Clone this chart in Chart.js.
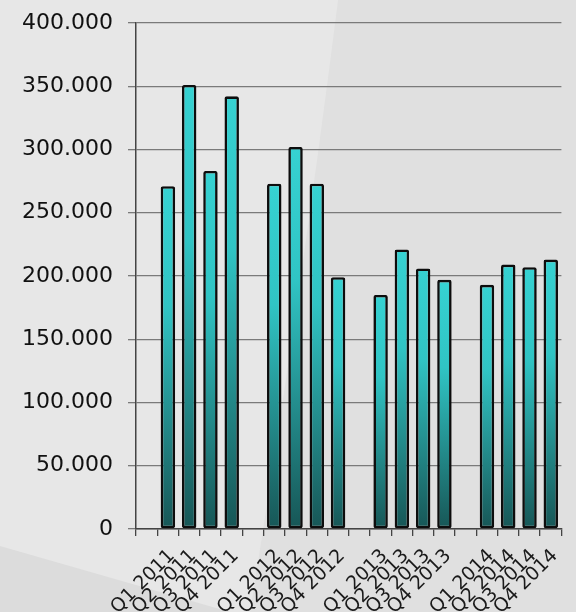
<!DOCTYPE html>
<html>
<head>
<meta charset="utf-8">
<script src="https://cdn.jsdelivr.net/npm/chart.js@4/dist/chart.umd.min.js"></script>
<style>
  html, body { margin: 0; padding: 0; background: #e1e1e1; }
  #wrap { width: 576px; height: 612px; }
</style>
</head>
<body>
<div id="wrap"><canvas id="quarterChart" width="576" height="612"></canvas></div>
<script>
// quarters, with empty slots between the years
const labels = [
    '', 'Q1 2011', 'Q2 2011', 'Q3 2011', 'Q4 2011',
    '', 'Q1 2012', 'Q2 2012', 'Q3 2012', 'Q4 2012',
    '', 'Q1 2013', 'Q2 2013', 'Q3 2013', 'Q4 2013',
    '', 'Q1 2014', 'Q2 2014', 'Q3 2014', 'Q4 2014'
];
const values = [
    null, 271000, 351000, 283000, 342000,
    null, 273000, 302000, 273000, 199000,
    null, 185000, 221000, 206000, 197000,
    null, 193000, 209000, 207000, 213000
];
const yTicks = [0, 50000, 100000, 150000, 200000, 250000, 300000, 350000, 400000];

function fmt(v) {
    return String(v).replace(/\B(?=(\d{3})+(?!\d))/g, '.');
}

// grey backdrop with the faint light/dark wedges
const backdrop = {
    id: 'backdrop',
    beforeDraw(chart) {
        const c = chart.ctx;
        const w = chart.width, h = chart.height;
        c.save();
        c.fillStyle = '#e0e0e0';
        c.fillRect(0, 0, w, h);
        c.fillStyle = '#e7e7e7';
        c.beginPath();
        c.moveTo(0, 0);
        c.lineTo(338, 0);
        c.quadraticCurveTo(300, 300, 250, h);
        c.lineTo(0, h);
        c.closePath();
        c.fill();
        c.fillStyle = '#dcdcdc';
        c.beginPath();
        c.moveTo(0, 546);
        c.lineTo(230, h);
        c.lineTo(0, h);
        c.closePath();
        c.fill();
        c.restore();
    }
};

function barFill(context) {
    const chart = context.chart;
    if (!chart.chartArea) return '#2fb8b8';
    const v = context.raw;
    if (v == null) return '#2fb8b8';
    const y = chart.scales.y;
    const top = y.getPixelForValue(v);
    const base = y.getPixelForValue(0);
    const g = chart.ctx.createLinearGradient(0, top, 0, base);
    g.addColorStop(0, '#36d2d2');
    g.addColorStop(0.35, '#30c4c4');
    g.addColorStop(1, '#175656');
    return g;
}

const ctx = document.getElementById('quarterChart').getContext('2d');
new Chart(ctx, {
    type: 'bar',
    data: {
        labels: labels,
        datasets: [{
            data: values,
            backgroundColor: barFill,
            borderColor: '#0d0d0d',
            borderWidth: 2.6,
            borderRadius: 2,
            borderSkipped: false,
            categoryPercentage: 1,
            barPercentage: 0.68
        }]
    },
    plugins: [backdrop],
    options: {
        animation: false,
        responsive: false,
        layout: { padding: { top: 0, right: 4, left: 0, bottom: 0 } },
        scales: {
            x: {
                offset: true,
                grid: {
                    offset: true,
                    drawOnChartArea: false,
                    drawTicks: true,
                    tickLength: 7,
                    color: '#444',
                    lineWidth: 1.3
                },
                border: { color: '#444', width: 1.5 },
                ticks: {
                    autoSkip: false,
                    minRotation: 45,
                    maxRotation: 45,
                    padding: 9,
                    labelOffset: 4,
                    color: '#1a1a1a',
                    font: { family: 'DejaVu Sans', size: 19 }
                },
                afterFit(scale) { scale.height = 83; }
            },
            y: {
                min: 0,
                max: 400000,
                afterBuildTicks(scale) {
                    scale.ticks = yTicks.map(v => ({ value: v }));
                },
                grid: {
                    color: '#7a7a7a',
                    lineWidth: 1.3,
                    tickLength: 8
                },
                border: { color: '#444', width: 1.5 },
                ticks: {
                    padding: 15,
                    color: '#111',
                    font: { family: 'DejaVu Sans', size: 22 },
                    callback: v => fmt(v)
                },
                afterFit(scale) {
                    scale.width = 136;
                    scale.paddingTop = 23;
                }
            }
        },
        plugins: {
            legend: { display: false },
            tooltip: { enabled: false }
        }
    }
});
</script>
</body>
</html>
